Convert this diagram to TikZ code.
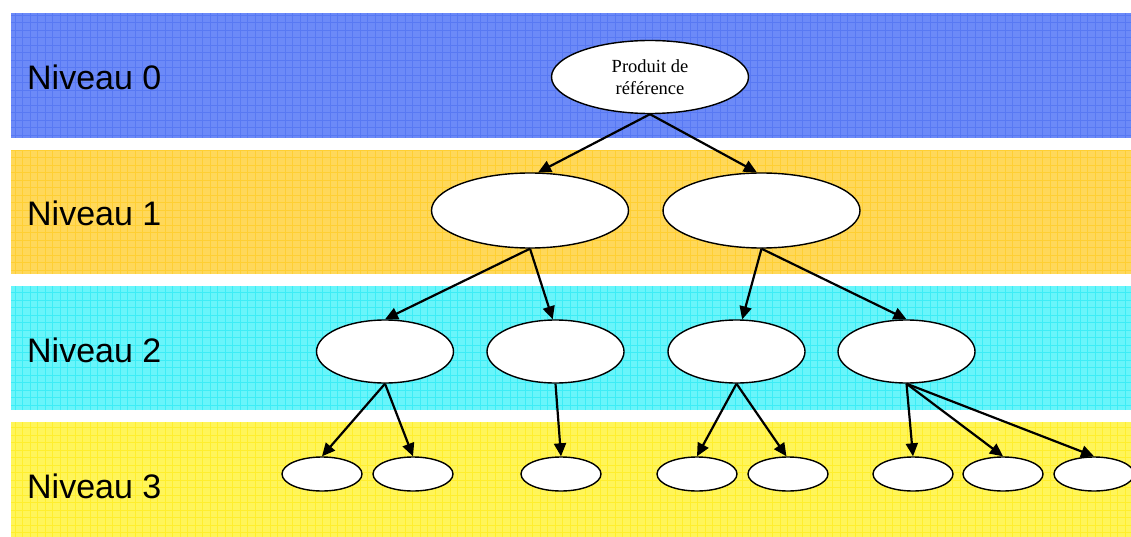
\documentclass[tikz,border=0pt]{standalone}
\usepackage{fontspec}
\setmainfont{Liberation Serif}
\setsansfont{Liberation Sans}
\usetikzlibrary{shapes.geometric,arrows.meta}
\definecolor{bandA}{RGB}{108,138,248}
\definecolor{gridA}{RGB}{72,108,240}
\definecolor{bandB}{RGB}{255,216,90}
\definecolor{gridB}{RGB}{255,200,20}
\definecolor{bandC}{RGB}{105,245,250}
\definecolor{gridC}{RGB}{25,232,244}
\definecolor{bandD}{RGB}{255,245,90}
\definecolor{gridD}{RGB}{255,234,10}
\tikzset{
  lvl/.style={font=\sffamily\fontsize{34}{40}\selectfont, anchor=west, inner sep=0pt},
  oval/.style={ellipse, draw=black, line width=1.4pt, fill=white, inner sep=0pt},
  big/.style={oval, minimum width=197pt, minimum height=75pt},
  mid/.style={oval, minimum width=137pt, minimum height=63pt},
  small/.style={oval, minimum width=80pt, minimum height=34pt},
  arr/.style={line width=2.2pt, -{Triangle[length=13pt,width=12pt]}},
}
\begin{document}
\begin{tikzpicture}[x=1pt,y=-1pt]
\useasboundingbox (0,0) rectangle (1131,537);
% bands
\foreach \ya/\yb/\fc/\gc in {13/138/bandA/gridA, 150/274/bandB/gridB, 286/410/bandC/gridC, 422/537/bandD/gridD}{
  \fill[\fc] (11,\ya) rectangle (1131,\yb);
  \begin{scope}
    \clip (11,\ya) rectangle (1131,\yb);
    \draw[\gc, line width=0.9pt, opacity=0.55] (11,\ya) grid[step=7.5pt] (1131,\yb);
  \end{scope}
}
% level labels
\node[lvl] (n0) at (27,77) {Niveau 0};
\node[lvl] (n1) at (27,213) {Niveau 1};
\node[lvl] (n2) at (27,350) {Niveau 2};
\node[lvl] (n3) at (27,486) {Niveau 3};
% nodes
\node[oval, minimum width=197pt, minimum height=73pt, align=center,
      font=\fontsize{18.5}{21.6}\selectfont] (root) at (650,77) {Produit de\\référence};
\node[big] (a1) at (530,210.5) {};
\node[big] (a2) at (761.5,210.5) {};
\node[mid] (b1) at (385,351.5) {};
\node[mid] (b2) at (555.5,351.5) {};
\node[mid] (b3) at (736.5,351.5) {};
\node[mid] (b4) at (906.5,351.5) {};
\node[small] (c1) at (322,474) {};
\node[small] (c2) at (413,474) {};
\node[small] (c3) at (561,474) {};
\node[small] (c4) at (697,474) {};
\node[small] (c5) at (788,474) {};
\node[small] (c6) at (913,474) {};
\node[small] (c7) at (1003,474) {};
\node[small] (c8) at (1094,474) {};
% arrows
\draw[arr] (root.south) -- (a1.78);
\draw[arr] (root.south) -- (a2.97);
\draw[arr] (a1.south) -- (b1.north);
\draw[arr] (a1.south) -- (b2.95);
\draw[arr] (a2.south) -- (b3.80);
\draw[arr] (a2.south) -- (b4.north);
\draw[arr] (b1.south) -- (c1.north);
\draw[arr] (b1.south) -- (c2.north);
\draw[arr] (b2.south) -- (c3.north);
\draw[arr] (b3.south) -- (c4.north);
\draw[arr] (b3.south) -- (c5.95);
\draw[arr] (b4.south) -- (c6.north);
\draw[arr] (b4.south) -- (c7.north);
\draw[arr] (b4.south) -- (c8.north);
\end{tikzpicture}
\end{document}
